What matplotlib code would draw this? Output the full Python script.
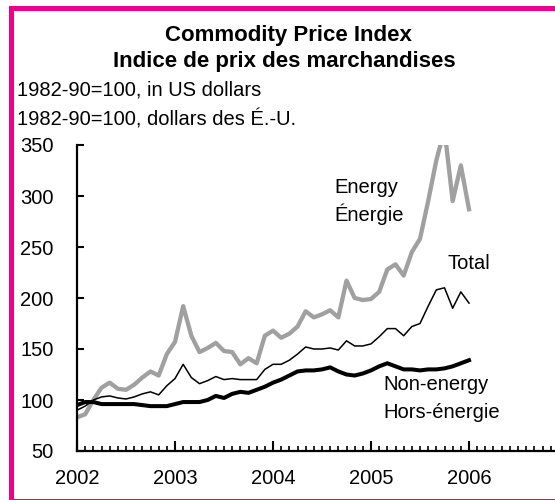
import matplotlib
matplotlib.use("Agg")
import matplotlib.pyplot as plt
from matplotlib.patches import Rectangle
import numpy as np

plt.rcParams['font.family'] = ['Liberation Sans', 'DejaVu Sans']

# Monthly data, Jan 2002 .. Jan 2006
months = np.arange(49)  # month index from Jan 2002
energy = [83, 86, 100, 112, 117, 111, 110, 115, 122, 128, 124, 145,
          157, 192, 163, 147, 151, 156, 148, 147, 135, 141, 136, 163,
          168, 161, 165, 172, 187, 181, 184, 188, 181, 217, 200, 198,
          199, 206, 228, 233, 222, 245, 258, 295, 335, 365, 295, 330,
          287]
total = [90, 94, 100, 103, 104, 102, 101, 103, 106, 108, 105, 114,
         121, 135, 122, 116, 119, 123, 120, 121, 120, 120, 120, 130,
         135, 135, 139, 145, 152, 150, 150, 151, 149, 158, 153, 153,
         155, 162, 170, 170, 163, 172, 175, 192, 208, 210, 190, 206,
         195]
non_energy = [95, 98, 98, 96, 96, 96, 96, 96, 95, 94, 94, 94,
              96, 98, 98, 98, 100, 104, 102, 106, 108, 107, 110, 113,
              117, 120, 124, 128, 129, 129, 130, 132, 128, 125, 124, 126,
              129, 133, 136, 133, 130, 130, 129, 130, 130, 131, 133, 136,
              139]
year_labels = ['2002', '2003', '2004', '2005', '2006']
y_ticks = [50, 100, 150, 200, 250, 300, 350]

W, H = 555, 500
fig = plt.figure(figsize=(W / 100, H / 100), dpi=100)

def px(x0, y0):
    return x0 / W, 1 - y0 / H

# axes: x from 77 px (2002) to 567 px (2007); y from 451 px (50) to 145 px (350)
ax = fig.add_axes([77 / W, 1 - 451 / H, 490 / W, 306 / H])
ax.set_xlim(0, 60)
ax.set_ylim(50, 350)

ax.plot(months, energy, color='#A0A0A0', lw=3.1, solid_joinstyle='round', zorder=2)
ax.plot(months, total, color='black', lw=1.1, zorder=3)
ax.plot(months, non_energy, color='black', lw=2.9, zorder=4)

for s in ['top', 'right']:
    ax.spines[s].set_visible(False)
ax.spines['left'].set_linewidth(1.6)
ax.spines['bottom'].set_linewidth(1.6)

ax.set_yticks(y_ticks)
ax.set_yticklabels([str(v) for v in y_ticks])
ax.set_xticks([0, 12, 24, 36, 48, 60])
ax.set_xticklabels(year_labels + [''])
ax.set_xticks(np.arange(0, 61), minor=True)
ax.tick_params(axis='y', direction='in', length=5, width=1.5, pad=17, labelsize=14.5)
ax.tick_params(axis='x', which='major', direction='in', length=7, width=1.5, pad=13, labelsize=14.5)
ax.tick_params(axis='x', which='minor', direction='in', length=3.5, width=1.2)
ax.patch.set_alpha(0)

# Titles
fs = 14.5
fig.text(*px(288, 35), 'Commodity Price Index', ha='center', va='center',
         fontsize=16, fontweight='bold')
fig.text(*px(284, 61), 'Indice de prix des marchandises', ha='center', va='center',
         fontsize=16, fontweight='bold')
fig.text(*px(17, 95), '1982-90=100, in US dollars', ha='left', va='baseline', fontsize=fs)
fig.text(*px(17, 126), '1982-90=100, dollars des É.-U.', ha='left', va='baseline', fontsize=fs)

# Series labels
fig.text(*px(334, 193), 'Energy', ha='left', va='baseline', fontsize=fs)
fig.text(*px(334, 221), 'Énergie', ha='left', va='baseline', fontsize=fs)
fig.text(*px(447, 269), 'Total', ha='left', va='baseline', fontsize=fs)
fig.text(*px(383, 390), 'Non-energy', ha='left', va='baseline', fontsize=fs)
fig.text(*px(383, 418), 'Hors-énergie', ha='left', va='baseline', fontsize=fs)

# Pink frame
pink = '#EC008C'
fig.patches.append(Rectangle((9 / W, 0), 5 / W, 1 - 6 / H, transform=fig.transFigure,
                             facecolor=pink, edgecolor='none', zorder=10))
fig.patches.append(Rectangle((9 / W, 1 - 11 / H), 1 - 9 / W, 5 / H, transform=fig.transFigure,
                             facecolor=pink, edgecolor='none', zorder=10))
fig.patches.append(Rectangle((9 / W, 0), 1 - 9 / W, 1.5 / H, transform=fig.transFigure,
                             facecolor=pink, edgecolor='none', zorder=10))

fig.savefig('out.png', dpi=100)
